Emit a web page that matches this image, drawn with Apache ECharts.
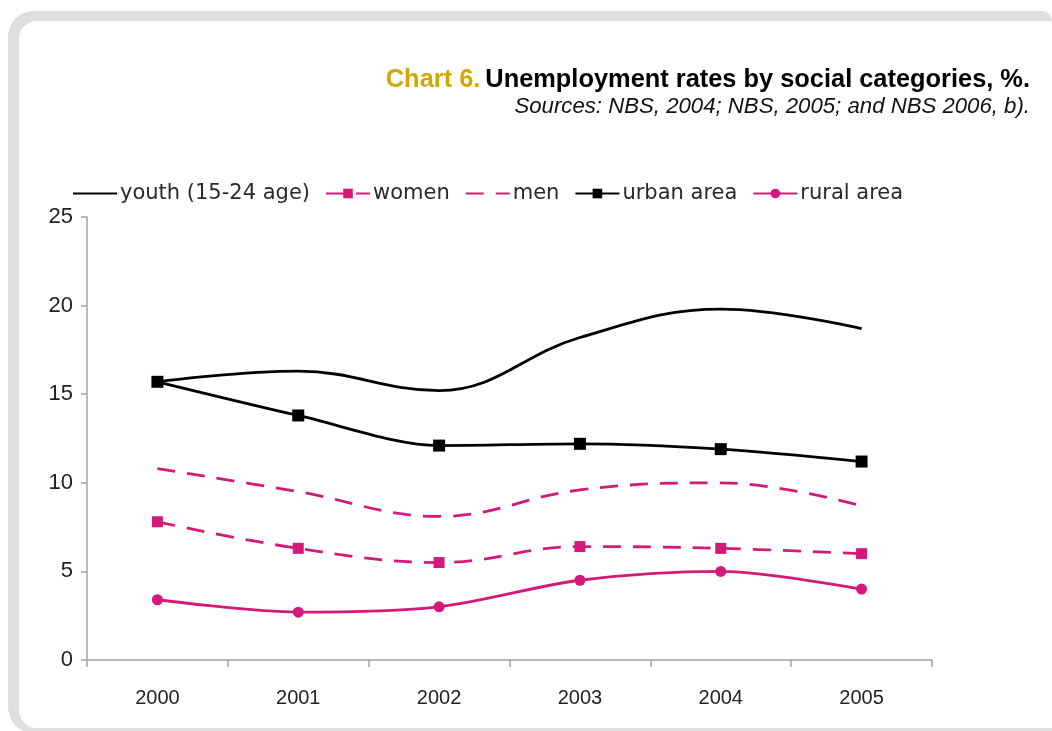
<!DOCTYPE html>
<html>
<head>
<meta charset="utf-8">
<script src="https://cdn.jsdelivr.net/npm/echarts@6/dist/echarts.min.js"></script>
<style>
  html, body { margin: 0; padding: 0; background: #fff; }
  #chart { width: 1052px; height: 731px; }
</style>
</head>
<body>
<div id="chart"></div>
<script>
// Unemployment rates by social category, Moldova 2000-2005 (%)
const years = ['2000', '2001', '2002', '2003', '2004', '2005'];
const youth = [15.7, 16.3, 15.2, 18.2, 19.8, 18.7];
const women = [7.8, 6.3, 5.5, 6.4, 6.3, 6.0];
const men = [10.8, 9.5, 8.1, 9.6, 10.0, 8.7];
const urban = [15.7, 13.8, 12.1, 12.2, 11.9, 11.2];
const rural = [3.4, 2.7, 3.0, 4.5, 5.0, 4.0];
const yTicks = { min: 0, max: 25, interval: 5 };

const PINK = '#d4197b';
const BLACK = '#000000';
const AXIS = '#a3a3a3';

const chart = echarts.init(document.getElementById('chart'), null, { renderer: 'canvas' });

chart.setOption({
  backgroundColor: '#ffffff',
  animation: false,
  graphic: [
    {
      type: 'rect', z: -100, silent: true,
      shape: { x: 8, y: 11, width: 1044, height: 722, r: [26, 10, 0, 26] },
      style: { fill: '#dedede' }
    },
    {
      type: 'rect', z: -99, silent: true,
      shape: { x: 19, y: 21, width: 1040, height: 707, r: [18, 0, 0, 18] },
      style: { fill: '#ffffff' }
    }
  ],
  title: [
    {
      text: '{a|Chart 6.} {b|Unemployment rates by social categories, %.}',
      right: 22, top: 67, padding: 0,
      textStyle: {
        rich: {
          a: { fontFamily: 'Liberation Sans', fontWeight: 'bold', fontSize: 25.4, color: '#d2a800' },
          b: { fontFamily: 'Liberation Sans', fontWeight: 'bold', fontSize: 25.4, color: '#000000' }
        }
      }
    },
    {
      text: 'Sources: NBS, 2004; NBS, 2005; and NBS 2006, b).',
      right: 22, top: 96, padding: 0,
      textStyle: {
        fontFamily: 'Liberation Sans', fontStyle: 'italic', fontWeight: 'normal',
        fontSize: 22.2, color: '#111111'
      }
    }
  ],
  legend: {
    left: 72, top: 183, padding: 0,
    itemWidth: 44, itemHeight: 12, itemGap: 15,
    textStyle: { fontFamily: 'DejaVu Sans', fontSize: 21, color: '#2a2a2a', padding: [0, 0, 0, -2] },
    data: [
      { name: 'youth (15-24 age)', itemStyle: { opacity: 0 } },
      { name: 'women' },
      { name: 'men', itemStyle: { opacity: 0 } },
      { name: 'urban area' },
      { name: 'rural area' }
    ]
  },
  grid: { left: 87, right: 120, top: 217, bottom: 71, containLabel: false },
  xAxis: {
    type: 'category',
    data: years,
    boundaryGap: true,
    axisLine: { lineStyle: { color: AXIS, width: 1.5 } },
    axisTick: { show: true, length: 7, lineStyle: { color: AXIS, width: 1.5 } },
    axisLabel: { fontFamily: 'Liberation Sans', fontSize: 20, color: '#222222', margin: 28 },
    splitLine: { show: false }
  },
  yAxis: {
    type: 'value',
    min: yTicks.min, max: yTicks.max, interval: yTicks.interval,
    axisLine: { show: true, lineStyle: { color: AXIS, width: 1.5 } },
    axisTick: { show: true, length: 6, inside: false, lineStyle: { color: AXIS, width: 1.5 } },
    axisLabel: { fontFamily: 'Liberation Sans', fontSize: 22, color: '#222222', margin: 14 },
    splitLine: { show: false }
  },
  series: [
    {
      name: 'youth (15-24 age)', type: 'line', data: youth,
      smooth: 0.4, symbol: 'none',
      lineStyle: { color: BLACK, width: 2.8 },
      itemStyle: { color: BLACK }
    },
    {
      name: 'women', type: 'line', data: women,
      smooth: 0.4, symbol: 'rect', symbolSize: 11,
      lineStyle: { color: PINK, width: 2.8, type: [18, 12] },
      itemStyle: { color: PINK }
    },
    {
      name: 'men', type: 'line', data: men,
      smooth: 0.4, symbol: 'none',
      lineStyle: { color: PINK, width: 2.8, type: [18, 12] },
      itemStyle: { color: PINK }
    },
    {
      name: 'urban area', type: 'line', data: urban,
      smooth: 0.3, symbol: 'rect', symbolSize: 12,
      lineStyle: { color: BLACK, width: 2.8 },
      itemStyle: { color: BLACK }
    },
    {
      name: 'rural area', type: 'line', data: rural,
      smooth: 0.3, symbol: 'circle', symbolSize: 11,
      lineStyle: { color: PINK, width: 2.8 },
      itemStyle: { color: PINK }
    }
  ]
});
</script>
</body>
</html>
